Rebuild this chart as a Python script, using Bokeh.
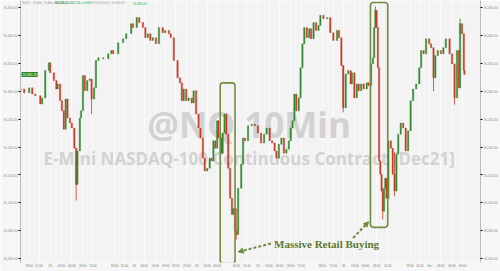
from bokeh.plotting import figure
from bokeh.models import (ColumnDataSource, Range1d, LinearAxis, FixedTicker,
                          BoxAnnotation, Label, Arrow, NormalHead)
from bokeh.core.properties import value
from bokeh.embed import file_html
from bokeh.resources import INLINE

# ---- data: 10-minute bar number and closing price ----
bars = [0, 6, 14, 19, 24, 32, 35, 40, 46, 48, 54, 58, 60, 64, 67, 70, 73, 76, 80, 83,
        87, 90, 92, 96, 98, 101, 104, 108, 112, 115, 119, 122, 126, 134, 142, 147, 150,
        158, 166, 171, 179, 182, 188, 192, 198, 202, 206, 210, 214, 219, 224, 230, 234,
        240, 243, 248, 254, 258, 261, 264, 268, 272, 277, 280, 284, 288, 291, 295, 298,
        302, 306, 309, 312, 315, 318, 320, 325, 327, 330, 333, 336, 339, 342, 344, 347,
        349, 352, 357, 360, 363, 368, 374, 379, 384, 389, 394, 398, 403, 407, 411, 414,
        418, 422, 426, 430, 434, 437, 440, 443, 446, 450, 453, 456, 459, 463, 467, 470,
        474, 478, 482, 485, 490, 496, 501, 506, 512, 515, 519, 522, 526, 530, 534, 536,
        540, 544, 547, 551, 555, 560, 563, 567, 570, 572, 574, 576, 578, 580, 582, 584,
        586, 588, 590, 592, 595, 599, 602, 605, 608, 611, 615, 619, 623, 627, 631, 635,
        640, 645, 648, 652, 656, 661, 664, 668, 671, 675, 680, 684, 688, 694, 698, 702,
        706, 709, 711, 714, 717, 718]
closes = [16304, 16297, 16306, 16295, 16292, 16277, 16288, 16337, 16351, 16333, 16319,
          16304, 16313, 16283, 16265, 16232, 16286, 16252, 16243, 16234, 16198, 16133,
          16193, 16252, 16265, 16328, 16301, 16319, 16322, 16286, 16306, 16355, 16360,
          16358, 16367, 16373, 16367, 16387, 16394, 16403, 16421, 16414, 16432, 16423,
          16414, 16396, 16403, 16391, 16396, 16385, 16414, 16405, 16409, 16403, 16396,
          16355, 16324, 16315, 16283, 16304, 16283, 16288, 16279, 16301, 16259, 16234,
          16216, 16180, 16157, 16162, 16180, 16175, 16211, 16198, 16247, 16216, 16189,
          16225, 16259, 16223, 16162, 16108, 16079, 16090, 16049, 16043, 16126, 16169,
          16216, 16211, 16238, 16241, 16238, 16225, 16207, 16223, 16234, 16211, 16207,
          16193, 16180, 16205, 16216, 16189, 16196, 16211, 16234, 16247, 16295, 16265,
          16288, 16342, 16385, 16414, 16396, 16412, 16394, 16423, 16409, 16418, 16436,
          16430, 16432, 16405, 16391, 16409, 16396, 16346, 16270, 16331, 16337, 16313,
          16333, 16288, 16313, 16301, 16313, 16304, 16315, 16310, 16349, 16360, 16414,
          16445, 16414, 16342, 16175, 16151, 16121, 16085, 16126, 16144, 16108, 16211,
          16198, 16151, 16121, 16187, 16223, 16243, 16234, 16193, 16229, 16283, 16304,
          16313, 16342, 16373, 16367, 16394, 16385, 16378, 16324, 16364, 16373, 16367,
          16378, 16394, 16367, 16349, 16288, 16373, 16306, 16421, 16403, 16337, 16330]
first_open = 16300
last_price_text = "16,330.25"

# long wicks visible in the picture
wick_bars = [90, 115, 349, 522, 574, 586, 605, 702, 711, 668]
wick_lows = [16104, 16259, 16034, 16262, 16414, 16070, 16112, 16276, 16403, 16300]
wick_highs = [16198, 16306, 16090, 16346, 16452, 16126, 16190, 16349, 16430, 16378]

y_ticks = [16000, 16050, 16100, 16150, 16200, 16250, 16300, 16350, 16400, 16450]
x_tick_bars = [14, 30, 48, 66, 83, 101, 117,
               152, 168, 184, 200, 218, 235,
               251, 269, 285, 302, 318,
               349, 366, 384, 402, 419, 437, 454,
               488, 506, 523, 541, 558, 576, 594,
               630, 646, 662, 680, 698, 715]
x_tick_labels = ["18:00", "21:00", "23", "03:00", "06:00", "09:00", "12:00",
                 "18:00", "21:00", "24", "03:00", "06:00", "09:00",
                 "18:00", "21:00", "26", "03:00", "06:00",
                 "18:00", "21:00", "29", "03:00", "06:00", "09:00", "12:00",
                 "18:00", "21:00", "30", "03:00", "06:00", "09:00", "12:00",
                 "18:00", "21:00", "Dec", "03:00", "06:00", "09:00"]

# highlighted regions and annotation anchors (bar, price)
box1 = dict(left=323, right=347, top=16315, bottom=15991)
box2 = dict(left=566, right=594, top=16459, bottom=16056)
note_text = "Massive Retail Buying"
note_pos = (410, 16026)
arrow1 = (405, 16027, 352, 16012)
arrow2 = (538, 16037, 563, 16066)

UP = "#2f8a2f"
DOWN = "#c93a24"
OLIVE = "#6f8c3f"

opens = [first_open] + closes[:-1]
colors = [UP if c >= o else DOWN for o, c in zip(opens, closes)]
src = ColumnDataSource(dict(x=bars,
                            top=[max(o, c) for o, c in zip(opens, closes)],
                            bottom=[min(o, c) for o, c in zip(opens, closes)],
                            color=colors))
wick_colors = [colors[bars.index(b)] for b in wick_bars]

p = figure(width=500, height=271, x_range=Range1d(0, 744), y_range=Range1d(15993, 16462.6),
           output_backend="svg", toolbar_location=None, y_axis_location="right",
           min_border_left=18, min_border_right=17, min_border_top=0, min_border_bottom=9,
           background_fill_color="#f3f3f3", border_fill_color="#f6f6f6",
           outline_line_color=None)

# watermark (behind candles)
p.text(x=[370], y=[16241], text=["@NQ 10Min"], text_font=value("Open Sans"),
       text_font_style="bold", text_font_size="35px", text_color="#d2d2d2",
       text_align="center", text_baseline="middle")
p.text(x=[370], y=[16180], text=["E-Mini NASDAQ-100 Continuous Contract [Dec21]"],
       text_font=value("Open Sans"), text_font_style="bold", text_font_size="17px",
       text_color="#d2d2d2", text_align="center", text_baseline="middle")

p.segment(x0=wick_bars, y0=wick_lows, x1=wick_bars, y1=wick_highs, color=wick_colors,
          line_width=0.8)
p.vbar(x="x", width=2.2, top="top", bottom="bottom", source=src,
       fill_color="color", line_color="color", line_width=0.4)

# axes
p.xaxis.ticker = FixedTicker(ticks=x_tick_bars)
p.xaxis.major_label_overrides = {b: l for b, l in zip(x_tick_bars, x_tick_labels)}
p.xaxis.major_label_text_font_size = "3px"
p.xaxis.major_label_text_color = "#777777"
p.xaxis.major_tick_out = 0
p.xaxis.major_tick_in = 0
p.xaxis.minor_tick_line_color = None
p.xaxis.axis_line_color = None
p.xaxis.major_label_standoff = 2

yr = p.yaxis[0]
yr.ticker = FixedTicker(ticks=y_ticks)
yr.major_label_overrides = {v: f"{v:,.2f}" for v in y_ticks}
yr.major_label_text_font_size = "3.2px"
yr.major_label_text_color = "#888888"
yr.major_tick_out = 2
yr.major_tick_in = 0
yr.minor_tick_line_color = None
yr.axis_line_color = "#bbbbbb"
yr.major_label_standoff = 1

yl = LinearAxis(ticker=FixedTicker(ticks=y_ticks),
                major_label_overrides={v: f"{v:,.2f}" for v in y_ticks},
                major_label_text_font_size="3.2px", major_label_text_color="#888888",
                major_tick_out=2, major_tick_in=0, minor_tick_line_color=None,
                axis_line_color="#bbbbbb", major_label_standoff=1)
p.add_layout(yl, "left")

p.xgrid.ticker = FixedTicker(ticks=x_tick_bars)
p.xgrid.grid_line_color = "#fbfbfb"
p.ygrid.grid_line_color = None

# highlight boxes
for b in (box1, box2):
    p.add_layout(BoxAnnotation(left=b["left"], right=b["right"], top=b["top"],
                               bottom=b["bottom"], fill_alpha=0, line_color=OLIVE,
                               line_alpha=1.0, line_width=1.6, border_radius=3))

for ax0, ay0, ax1, ay1 in (arrow1, arrow2):
    p.add_layout(Arrow(x_start=ax0, y_start=ay0, x_end=ax1, y_end=ay1,
                       line_color=OLIVE, line_width=2, line_dash="3 2",
                       end=NormalHead(size=5, fill_color=OLIVE, line_color=OLIVE)))

p.add_layout(Label(x=note_pos[0], y=note_pos[1], text=note_text,
                   text_font="Liberation Serif", text_font_style="bold",
                   text_font_size="11px", text_color="#5e7a30",
                   text_baseline="middle"))

# last-price tag at the left edge of the frame
p.add_layout(Label(x=1, x_units="screen", y=closes[-1], text=last_price_text,
                   text_font_size="3.2px", text_color="white", text_baseline="middle",
                   background_fill_color="#2a8a2a", padding=1))

# header line
p.add_layout(Label(x=3, y=16461, text="NQZ1 · 10 Min · E-Mini NASDAQ-100",
                   text_font_size="3px", text_color="#999999", text_baseline="top"))
p.add_layout(Label(x=56, y=16461, text="16,345.00  +152.50  +0.94%",
                   text_font_size="3px", text_color="#22aa22", text_baseline="top"))
p.add_layout(Label(x=115, y=16461, text="H 16,452.00  L 16,034.00",
                   text_font_size="3px", text_color="#999999", text_baseline="top"))
p.add_layout(Label(x=182, y=16461, text="16,345.00",
                   text_font_size="3px", text_color="#22aa22", text_baseline="top"))

open("out.html", "w").write(file_html(p, INLINE))
